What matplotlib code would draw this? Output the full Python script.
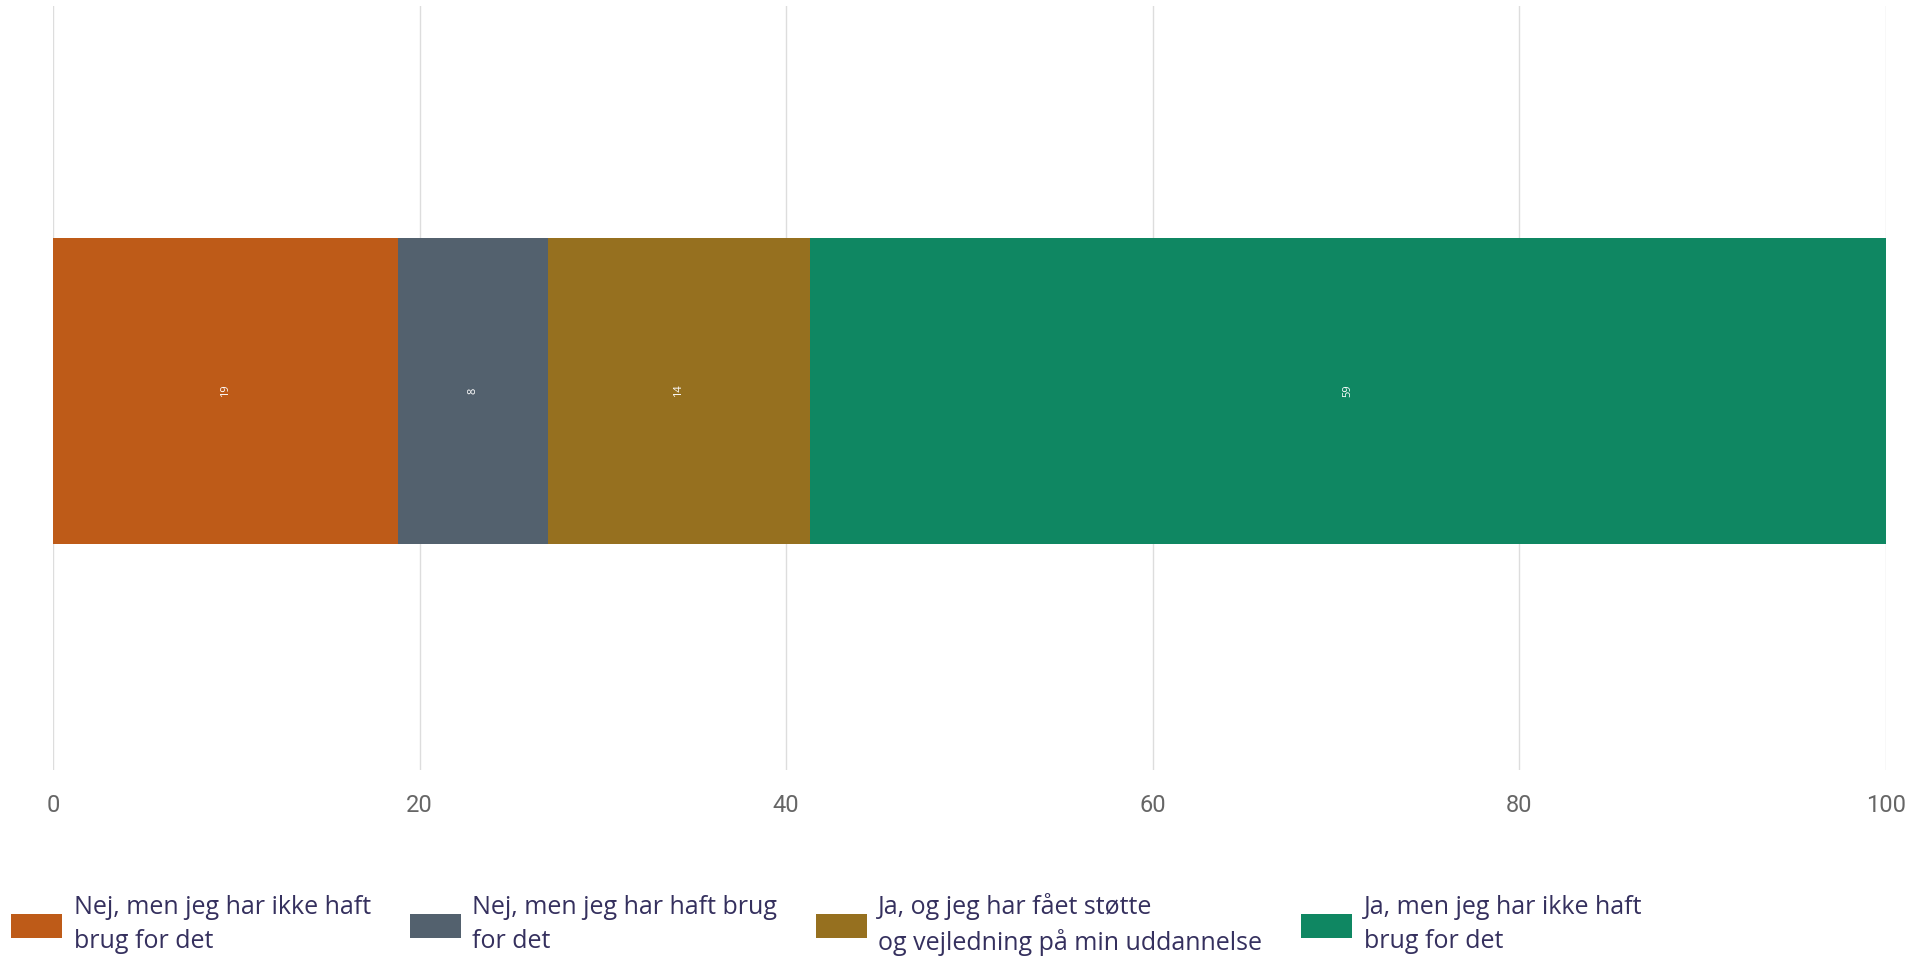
import numpy as np
import matplotlib.pyplot as plt
from matplotlib.patches import Patch

categories = ["Nej, men jeg har ikke haft\nbrug for det",
              "Nej, men jeg har haft brug\nfor det",
              "Ja, og jeg har fået støtte\nog vejledning på min uddannelse",
              "Ja, men jeg har ikke haft\nbrug for det"]
values = [18.8, 8.2, 14.3, 58.7]
colors = ["#BE5B18", "#53616E", "#96701F", "#0F8762"]
xticks = [0, 20, 40, 60, 80, 100]

plt.rcParams['font.family'] = ['Open Sans', 'DejaVu Sans']

fig = plt.figure(figsize=(19.24, 9.57), dpi=100)
ax = fig.add_axes([0.0275, 0.1954, 0.9527, 0.7983])

left = 0
for v, c in zip(values, colors):
    ax.barh(-0.004, v, left=left, height=0.4, color=c, zorder=2)
    ax.text(left + v / 2, -0.004, "%.0f" % v, rotation=90, ha='center', va='center',
            color='white', fontsize=8, zorder=3)
    left += v

ax.set_xlim(0, 100)
ax.set_ylim(-0.5, 0.5)
ax.set_xticks(xticks)
ax.set_yticks([])
ax.grid(axis='x', color='#dddddd', linewidth=1, zorder=0)
for s in ax.spines.values():
    s.set_visible(False)
ax.tick_params(axis='x', length=0, pad=17, labelsize=17, labelcolor='#666666')
for lab in ax.get_xticklabels():
    lab.set_family(['Roboto', 'DejaVu Sans'])

handles = [Patch(facecolor=c) for c in colors]
leg = fig.legend(handles, categories, loc='lower left', bbox_to_anchor=(-0.002, -0.015),
                 ncol=4, frameon=False, fontsize=18, handlelength=2.05, handleheight=1.1,
                 handletextpad=0.45, columnspacing=1.55, borderaxespad=0.2)
for t in leg.get_texts():
    t.set_color('#35305e')
    t.set_linespacing(1.45)

fig.savefig("out.png", dpi=100)
